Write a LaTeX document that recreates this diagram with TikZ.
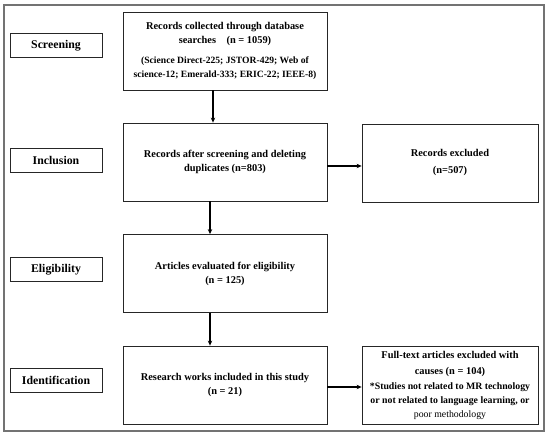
\documentclass[tikz,border=0pt]{standalone}
\usepackage{fontspec}
\setmainfont{Liberation Serif}
\usetikzlibrary{arrows.meta}
\begin{document}
\begin{tikzpicture}[x=1pt,y=-1pt,
  stagebox/.style={draw=black!85,line width=0.8pt,minimum width=92pt,minimum height=24pt,inner sep=0pt,font=\bfseries\fontsize{11.8}{13}\selectfont},
  flowbox/.style={draw=black!85,line width=0.8pt,minimum width=204pt,minimum height=78pt,inner sep=2pt,align=center,font=\bfseries\fontsize{10.4}{14}\selectfont},
  sidebox/.style={draw=black!85,line width=0.8pt,minimum width=176pt,minimum height=78pt,inner sep=2pt,align=center,font=\bfseries\fontsize{10.4}{17}\selectfont},
  arr/.style={line width=1.3pt,-{Stealth[length=5pt,width=4.5pt]}}]
\useasboundingbox (0,0) rectangle (550,438);
\draw[draw=black!55,line width=1.4pt] (4,5) rectangle (544,431);
% stage labels
\node[stagebox] (scr) at (56,45.5) {Screening};
\node[stagebox] (inc) at (56,160) {Inclusion};
\node[stagebox] (eli) at (56,269.5) {Eligibility};
\node[stagebox] (ide) at (56,380) {Identification};
% flow
\node[flowbox] (b1) at (225,51) {Records collected through database\\searches\quad(n = 1059)\\[6pt]
  {\fontsize{9.6}{13}\selectfont (Science Direct-225; JSTOR-429; Web of}\\
  {\fontsize{9.6}{13}\selectfont science-12; Emerald-333; ERIC-22; IEEE-8)}};
\node[flowbox] (b2) at (225,162) {Records after screening and deleting\\duplicates (n=803)};
\node[flowbox] (b3) at (225,273.5) {Articles evaluated for eligibility\\(n = 125)};
\node[flowbox] (b4) at (225,385) {Research works included in this study\\(n = 21)};
\node[sidebox] (ex) at (450,163) {Records excluded\\(n=507)};
\node[sidebox,font=\bfseries\fontsize{10.4}{16.5}\selectfont] (ft) at (450,385) {Full-text articles excluded with\\causes (n = 104)\\[-2pt]
  {\fontsize{9.8}{14}\selectfont *Studies not related to MR technology}\\[-2pt]
  {\fontsize{9.8}{14}\selectfont or not related to language learning, or}\\[-3pt]
  {\fontsize{9.8}{14}\selectfont\mdseries poor methodology}};
% arrows
\draw[arr] ([xshift=-12pt]b1.south) -- ([xshift=-12pt]b2.north);
\draw[arr] ([xshift=-15pt]b2.south) -- ([xshift=-15pt]b3.north);
\draw[arr] ([xshift=-15pt]b3.south) -- ([xshift=-15pt]b4.north);
\draw[arr] ([yshift=-4pt]b2.east) -- ([yshift=-4pt]b2.east -| ex.west);
\draw[arr] ([yshift=-2pt]b4.east) -- ([yshift=-2pt]b4.east -| ft.west);
\end{tikzpicture}
\end{document}
